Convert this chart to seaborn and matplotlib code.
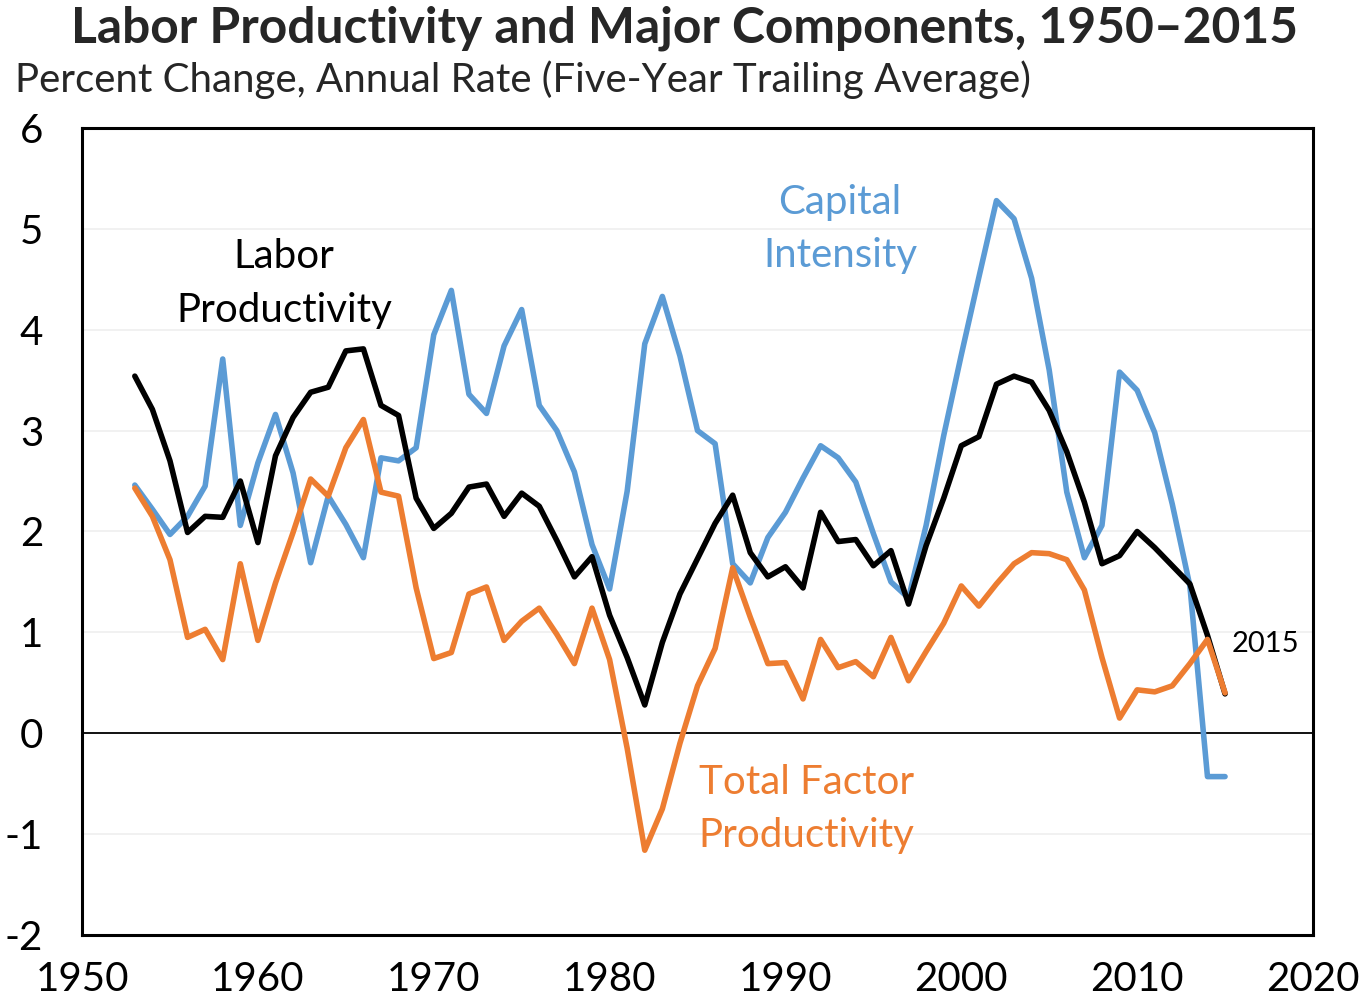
import numpy as np
import pandas as pd
import matplotlib
matplotlib.use('Agg')
import matplotlib.pyplot as plt
import seaborn as sns

years = list(range(1953, 2016))

labor_productivity = [
    3.54, 3.21, 2.70, 1.99, 2.15, 2.14, 2.50, 1.89, 2.75, 3.13,
    3.38, 3.43, 3.79, 3.81, 3.25, 3.15, 2.33, 2.03, 2.18, 2.44,
    2.47, 2.15, 2.38, 2.25, 1.91, 1.55, 1.75, 1.17, 0.75, 0.28,
    0.90, 1.38, 1.73, 2.08, 2.36, 1.79, 1.55, 1.65, 1.44, 2.19,
    1.90, 1.92, 1.66, 1.81, 1.28, 1.86, 2.33, 2.85, 2.94, 3.46,
    3.54, 3.48, 3.20, 2.79, 2.29, 1.68, 1.76, 2.00, 1.84, 1.66,
    1.48, 0.97, 0.39,
]

capital_intensity = [
    2.46, 2.22, 1.97, 2.15, 2.45, 3.71, 2.06, 2.68, 3.16, 2.58,
    1.69, 2.35, 2.07, 1.74, 2.73, 2.70, 2.83, 3.95, 4.39, 3.36,
    3.17, 3.84, 4.20, 3.25, 3.00, 2.59, 1.87, 1.43, 2.40, 3.86,
    4.33, 3.74, 3.00, 2.87, 1.68, 1.49, 1.94, 2.19, 2.53, 2.85,
    2.73, 2.49, 1.98, 1.50, 1.34, 2.06, 2.95, 3.75, 4.52, 5.28,
    5.10, 4.51, 3.60, 2.39, 1.74, 2.06, 3.58, 3.40, 2.98, 2.27,
    1.46, -0.43, -0.43,
]

total_factor_productivity = [
    2.43, 2.15, 1.72, 0.95, 1.03, 0.73, 1.68, 0.92, 1.49, 1.99,
    2.52, 2.35, 2.83, 3.11, 2.39, 2.35, 1.44, 0.74, 0.80, 1.38,
    1.45, 0.92, 1.11, 1.24, 0.98, 0.69, 1.24, 0.73, -0.15, -1.16,
    -0.75, -0.10, 0.47, 0.84, 1.64, 1.15, 0.69, 0.70, 0.34, 0.93,
    0.65, 0.71, 0.56, 0.95, 0.52, 0.81, 1.09, 1.46, 1.26, 1.48,
    1.68, 1.79, 1.78, 1.72, 1.42, 0.75, 0.15, 0.43, 0.41, 0.47,
    0.69, 0.93, 0.40,
]

# drawing order: blue first, black, orange on top
series_names = ['Capital Intensity', 'Labor Productivity', 'Total Factor Productivity']
colors = ['#5B9BD5', '#000000', '#ED7D31']

df = pd.DataFrame({
    'Year': years,
    'Capital Intensity': capital_intensity,
    'Total Factor Productivity': total_factor_productivity,
    'Labor Productivity': labor_productivity,
})

sns.set_style('white')
plt.rcParams['font.family'] = ['Lato', 'DejaVu Sans']
plt.rcParams['axes.unicode_minus'] = False

fig = plt.figure(figsize=(13.63, 9.99), dpi=100)
ax = fig.add_axes([0.0602, 0.0641, 0.9031, 0.8078])

ax.axhline(0, color='black', linewidth=1.3, zorder=1)
for i, (name, col) in enumerate(zip(series_names, colors)):
    sns.lineplot(data=df, x='Year', y=name, color=col, linewidth=4.0,
                 ax=ax, zorder=3 + i)

ax.set_xlim(1950, 2020)
ax.set_ylim(-2, 6)
ax.set_xticks(range(1950, 2021, 10))
ax.set_yticks(range(-2, 7))
ax.yaxis.grid(True, color='#efefef', linewidth=1.2)
ax.set_axisbelow(True)
ax.tick_params(axis='both', direction='in', length=10, width=1.3, labelsize=29,
               color='black', labelcolor='black')
ax.tick_params(axis='x', pad=19)
ax.tick_params(axis='y', pad=28)
for sp in ax.spines.values():
    sp.set_color('black')
    sp.set_linewidth(2.2)
ax.set_xlabel('')
ax.set_ylabel('')

# series labels
ax.text(1961.5, 4.46, 'Labor\nProductivity', color='black', fontsize=29,
        ha='center', va='center', linespacing=1.55)
ax.text(1993.1, 5.0, 'Capital\nIntensity', color='#5B9BD5', fontsize=29,
        ha='center', va='center', linespacing=1.55)
ax.text(1991.2, -0.75, 'Total Factor\nProductivity', color='#ED7D31', fontsize=29,
        ha='center', va='center', linespacing=1.55)
ax.text(2015.4, 0.88, '2015', color='black', fontsize=21, ha='left', va='center')

fig.text(0.502, 0.972, 'Labor Productivity and Major Components, 1950\u20132015',
         fontsize=35.8, fontweight='bold', ha='center', va='center')
fig.text(0.011, 0.920, 'Percent Change, Annual Rate (Five-Year Trailing Average)',
         fontsize=29, ha='left', va='center')

fig.savefig('out.png', dpi=100)
